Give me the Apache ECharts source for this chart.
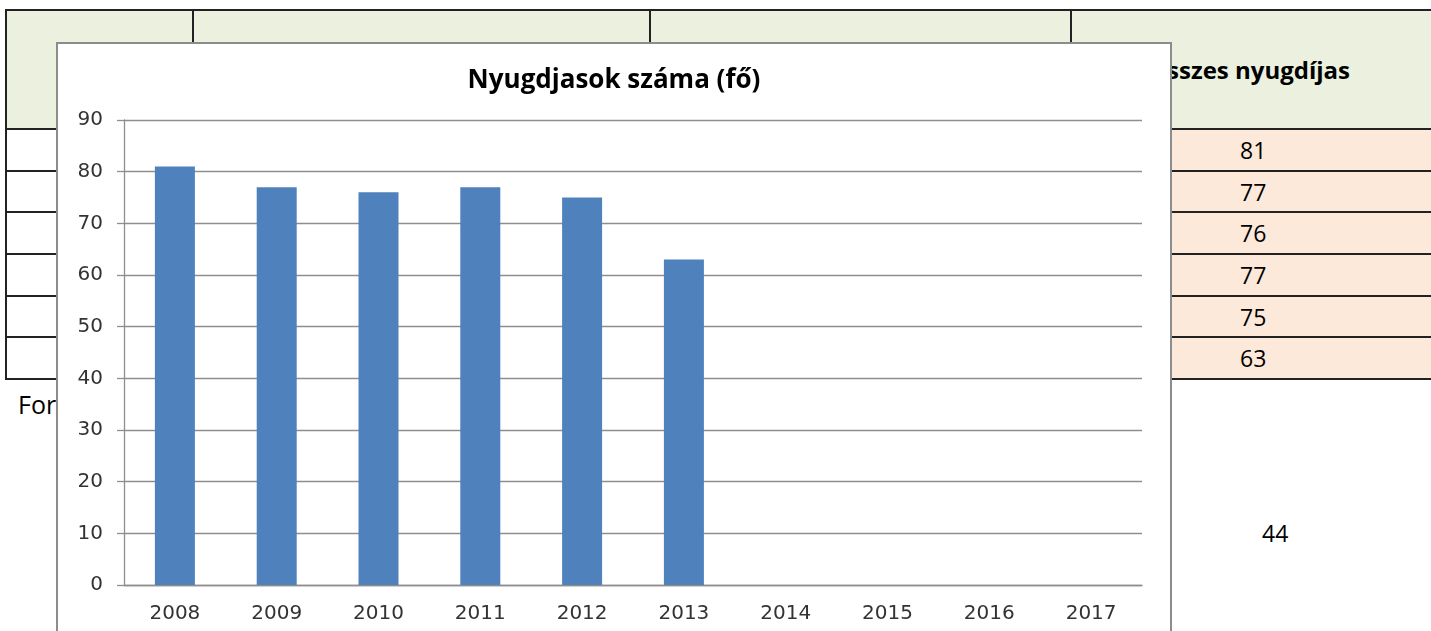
<!DOCTYPE html>
<html>
<head>
<meta charset="utf-8">
<script src="https://cdn.jsdelivr.net/npm/echarts@6/dist/echarts.min.js"></script>
<style>
html, body { margin: 0; padding: 0; width: 1431px; height: 631px; overflow: hidden; background: #fff; }
#page { position: relative; width: 1431px; height: 631px; overflow: hidden; font-family: "Open Sans", sans-serif; }
#tbl { position: absolute; left: 5px; top: 9px; width: 1485px; border-collapse: collapse; table-layout: fixed; }
#tbl td { border: 2px solid #222; padding: 0; }
#tbl tr.head td { background: #ebf1de; height: 117px; }
#tbl tr.row td.last { background: #fde9d9; }
#tbl td.hd { font-weight: bold; font-size: 24px; padding-left: 76px; color: #000; white-space: nowrap; }
#tbl td.num { font-size: 23px; padding-left: 168px; color: #000; line-height: 20px; }
#forras { position: absolute; left: 18px; top: 390px; font-size: 25px; line-height: 28px; }
#pagenum { position: absolute; left: 1262px; top: 519px; font-size: 23px; line-height: 28px; }
#frame { position: absolute; left: 56px; top: 42px; width: 1112px; height: 620px; border: 2px solid #8c8c8c; background: #fff; z-index: 5; }
#main1 { position: absolute; left: 0; top: 0; width: 1112px; height: 620px; }
</style>
</head>
<body>
<div id="page">
  <table id="tbl">
    <colgroup><col style="width:187px"><col style="width:457px"><col style="width:421px"><col style="width:420px"></colgroup>
    <tbody id="tbody">
      <tr class="head"><td></td><td></td><td></td><td class="hd">Összes nyugdíjas</td></tr>
    </tbody>
  </table>
  <div id="forras">Forrás:</div>
  <div id="pagenum">44</div>
  <div id="frame"><div id="main1"></div></div>
</div>
<script>
var years = ['2008', '2009', '2010', '2011', '2012', '2013', '2014', '2015', '2016', '2017'];
var nyugdijasok = [81, 77, 76, 77, 75, 63, null, null, null, null];
var yTicks = [0, 10, 20, 30, 40, 50, 60, 70, 80, 90];
var rowHeights = [40, 39, 40, 40, 39, 40];

// background table rows (same numbers as the chart)
var tbody = document.getElementById('tbody');
for (var i = 0; i < 6; i++) {
    var tr = document.createElement('tr');
    tr.className = 'row';
    tr.innerHTML = '<td style="height:' + rowHeights[i] + 'px"></td><td></td><td></td>' +
        '<td class="last num">' + nyugdijasok[i] + '</td>';
    tbody.appendChild(tr);
}

var dom1 = document.getElementById('main1');
var myChart1 = echarts.init(dom1);

var gridColor = '#8e8e8e';

var option = {
    animation: false,
    title: {
        text: 'Nyugdjasok száma (fő)',
        left: 'center',
        top: 19,
        textStyle: {
            fontFamily: 'Open Sans',
            fontWeight: 'bold',
            fontSize: 26,
            color: '#000'
        }
    },
    grid: {
        left: 66,
        top: 76,
        width: 1018,
        height: 465
    },
    xAxis: {
        type: 'category',
        data: years,
        axisLine: { lineStyle: { color: gridColor, width: 1.3 } },
        axisTick: { length: 8, lineStyle: { color: gridColor, width: 1.3 } },
        axisLabel: {
            fontFamily: 'DejaVu Sans',
            fontSize: 20,
            color: '#333',
            margin: 19
        }
    },
    yAxis: {
        type: 'value',
        min: yTicks[0],
        max: yTicks[yTicks.length - 1],
        interval: yTicks[1] - yTicks[0],
        axisLine: { show: true, lineStyle: { color: gridColor, width: 1.3 } },
        axisTick: { show: true, length: 7, lineStyle: { color: gridColor, width: 1.3 } },
        splitLine: { lineStyle: { color: gridColor, width: 1.3 } },
        axisLabel: {
            fontFamily: 'DejaVu Sans',
            fontSize: 20,
            color: '#333',
            margin: 21
        }
    },
    series: [{
        type: 'bar',
        name: 'Nyugdíjasok száma',
        data: nyugdijasok,
        barWidth: 40,
        itemStyle: { color: '#4f81bd' }
    }]
};

if (option && typeof option === "object") {
    myChart1.setOption(option, true);
}
</script>
</body>
</html>
